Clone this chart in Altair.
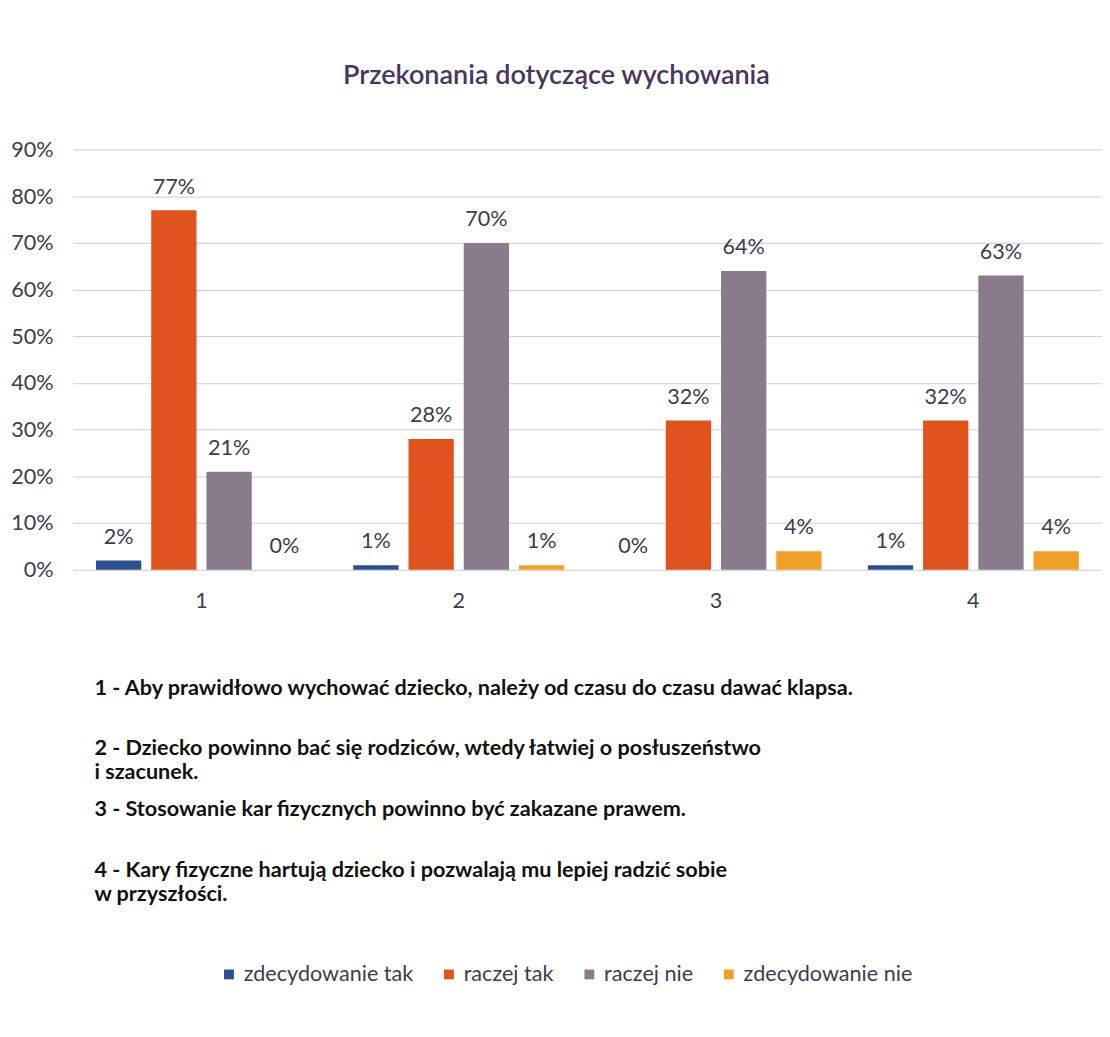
import altair as alt
import pandas as pd

categories = ["1", "2", "3", "4"]
series = ["zdecydowanie tak", "raczej tak", "raczej nie", "zdecydowanie nie"]
zdecydowanie_tak = [0.02, 0.01, 0.00, 0.01]
raczej_tak = [0.77, 0.28, 0.32, 0.32]
raczej_nie = [0.21, 0.70, 0.64, 0.63]
zdecydowanie_nie = [0.00, 0.01, 0.04, 0.04]
colors = ["#2D4E8F", "#E0531F", "#8A7B8C", "#F0A028"]
y_ticks = [0.0, 0.1, 0.2, 0.3, 0.4, 0.5, 0.6, 0.7, 0.8, 0.9]

notes = [
    "1 - Aby prawidłowo wychować dziecko, należy od czasu do czasu dawać klapsa.",
    "2 - Dziecko powinno bać się rodziców, wtedy łatwiej o posłuszeństwo\ni szacunek.",
    "3 - Stosowanie kar fizycznych powinno być zakazane prawem.",
    "4 - Kary fizyczne hartują dziecko i pozwalają mu lepiej radzić sobie\nw przyszłości.",
]

title_text = "Przekonania dotyczące wychowania"

rows = []
for s, vals in zip(series, [zdecydowanie_tak, raczej_tak, raczej_nie, zdecydowanie_nie]):
    for c, v in zip(categories, vals):
        rows.append({"cat": c, "series": s, "value": v})
df = pd.DataFrame(rows)

notes_df = pd.DataFrame({"idx": list(range(len(notes))), "txt": notes})

FONT = "Lato"
TXT = "#3C3C50"

base = alt.Chart(df).encode(
    x=alt.X(
        "cat:N",
        sort=categories,
        scale=alt.Scale(range=[0, 1048], paddingInner=0.18, paddingOuter=0.09),
        axis=alt.Axis(
            title=None, labelAngle=0, domain=False, ticks=False,
            labelFontSize=22, labelPadding=21, labelColor=TXT, labelFont=FONT,
        ),
    ),
    xOffset=alt.XOffset("series:N", sort=series,
                        scale=alt.Scale(paddingInner=0.18, paddingOuter=0)),
)

bars = base.mark_bar().encode(
    y=alt.Y(
        "value:Q",
        scale=alt.Scale(domain=[0, 0.9], nice=False),
        axis=alt.Axis(
            title=None, values=y_ticks, format=".0%", domain=False, ticks=False,
            labelFontSize=22, labelPadding=20, labelColor=TXT, labelFont=FONT,
            gridColor="#CFC8D8", gridWidth=1,
        ),
    ),
    color=alt.Color(
        "series:N",
        sort=series,
        scale=alt.Scale(domain=series, range=colors),
        legend=alt.Legend(
            title=None, orient="none", direction="horizontal",
            legendX=148, legendY=829,
            symbolType="square", symbolSize=100, symbolStrokeWidth=0,
            labelFontSize=22, labelFont=FONT, labelColor=TXT, labelLimit=0,
            columnPadding=25, symbolOffset=0, labelOffset=4,
        ),
    ),
)

labels = base.mark_text(
    baseline="bottom", dy=-12, fontSize=22, font=FONT, color=TXT
).encode(
    y="value:Q",
    text=alt.Text("value:Q", format=".0%"),
)

main = alt.layer(bars, labels).properties(width=1030, height=428)

notes_chart = alt.Chart(notes_df).mark_text(
    align="left", baseline="top", lineBreak="\n", fontSize=22,
    fontWeight="bold", font=FONT, color="#111111", lineHeight=24,
).encode(
    y=alt.Y("idx:O", axis=None, scale=alt.Scale(paddingInner=0, paddingOuter=0)),
    text="txt:N",
    x=alt.value(22),
).properties(width=1030, height=248)

chart = alt.vconcat(main, notes_chart, spacing=37).properties(
    title=alt.TitleParams(
        title_text, anchor="middle", frame="bounds", fontSize=27.5,
        font=FONT, fontWeight=600, color="#4A3560", offset=50,
    ),
    padding={"left": 2, "top": 46, "right": 0, "bottom": 10},
    background="white",
).configure_view(stroke=None)

chart.save("out.html", embed_options={"renderer": "svg", "actions": False})
